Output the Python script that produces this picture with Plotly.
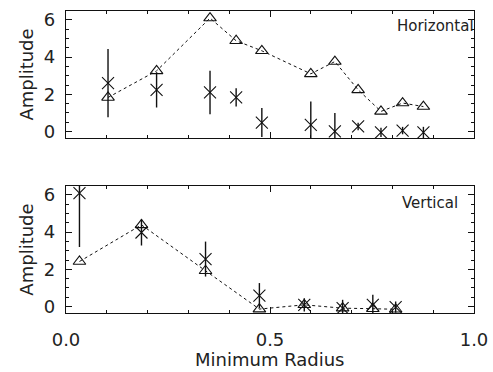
import plotly.graph_objects as go
from plotly.subplots import make_subplots

# Horizontal component
h_radius = [0.103, 0.222, 0.353, 0.417, 0.480, 0.600, 0.659, 0.716, 0.772, 0.825, 0.876]
h_model = [1.83, 3.26, 6.10, 4.88, 4.34, 3.10, 3.76, 2.24, 1.08, 1.53, 1.34]
h_obs = [2.60, 2.24, 2.10, 1.83, 0.48, 0.36, 0.00, 0.27, -0.05, 0.05, -0.05]
h_err = [1.83, 0.95, 1.17, 0.49, 0.78, 1.25, 1.00, 0.20, 0.25, 0.20, 0.30]

# Vertical component
v_radius = [0.033, 0.185, 0.342, 0.474, 0.584, 0.678, 0.752, 0.808]
v_model = [2.42, 4.39, 1.92, -0.14, 0.09, -0.09, -0.12, -0.15]
v_obs = [6.10, 3.98, 2.55, 0.58, 0.09, -0.09, 0.09, -0.03]
v_err = [2.90, 0.70, 0.94, 0.68, 0.36, 0.45, 0.54, 0.30]

panel_labels = ["Horizontal", "Vertical"]
x_title = "Minimum Radius"
x_ticks = [0.0, 0.5, 1.0]
y_ticks = [0, 2, 4, 6]

INK = "#111111"
TEXT = "#222222"
FONT = "DejaVu Sans"

fig = make_subplots(rows=2, cols=1, shared_xaxes=False, vertical_spacing=0.159)

for row, (rad, model, obs, err) in enumerate(
        [(h_radius, h_model, h_obs, h_err), (v_radius, v_model, v_obs, v_err)], start=1):
    fig.add_trace(go.Scatter(
        x=rad, y=model, mode="lines+markers",
        line=dict(color=INK, width=1, dash="dot"),
        marker=dict(symbol="triangle-up-open", size=11, color=INK, line=dict(width=1.1, color=INK)),
        showlegend=False), row=row, col=1)
    fig.add_trace(go.Scatter(
        x=rad, y=obs, mode="markers",
        marker=dict(symbol="x-thin-open", size=12, color=INK, line=dict(width=1.1, color=INK)),
        error_y=dict(type="data", array=err, visible=True, width=0, thickness=1.4, color=INK),
        showlegend=False), row=row, col=1)

axis_common = dict(
    showline=True, linecolor=INK, linewidth=1.3, mirror="allticks",
    ticks="inside", ticklen=6, tickwidth=1, tickcolor=INK,
    showgrid=False, zeroline=False, automargin=False,
    tickfont=dict(family=FONT, size=18, color=TEXT),
)

for row in (1, 2):
    fig.update_xaxes(
        range=[0, 1], tickvals=x_ticks, tickformat=".1f",
        minor=dict(dtick=0.1, ticks="inside", ticklen=3, tickcolor=INK),
        showticklabels=(row == 2), ticklabelstandoff=10,
        row=row, col=1, **axis_common)
    fig.update_yaxes(
        range=[-0.35, 6.48], tickvals=y_ticks,
        minor=dict(dtick=0.5, ticks="inside", ticklen=3, tickcolor=INK),
        ticklabelstandoff=6,
        title=dict(text="Amplitude", standoff=5, font=dict(family=FONT, size=18, color=TEXT)),
        row=row, col=1, **axis_common)

# x-axis title placed below the lower panel
fig.add_annotation(text=x_title, xref="x2 domain", yref="paper", x=0.5, y=-0.155,
                   xanchor="center", yanchor="middle", showarrow=False,
                   font=dict(family=FONT, size=18, color=TEXT))

fig.add_annotation(text=panel_labels[0], xref="x domain", yref="y domain", x=1.005, y=0.882,
                   xanchor="right", yanchor="middle", showarrow=False,
                   font=dict(family=FONT, size=15, color=TEXT))
fig.add_annotation(text=panel_labels[1], xref="x2 domain", yref="y2 domain", x=0.966, y=0.869,
                   xanchor="right", yanchor="middle", showarrow=False,
                   font=dict(family=FONT, size=15, color=TEXT))

fig.update_layout(
    width=493, height=372,
    margin=dict(l=66, r=19, t=11, b=59),
    paper_bgcolor="white", plot_bgcolor="white",
)
fig.layout.yaxis.domain = [0.5795, 1.0]
fig.layout.yaxis2.domain = [0.0, 0.4205]

fig.write_html("out.html")
